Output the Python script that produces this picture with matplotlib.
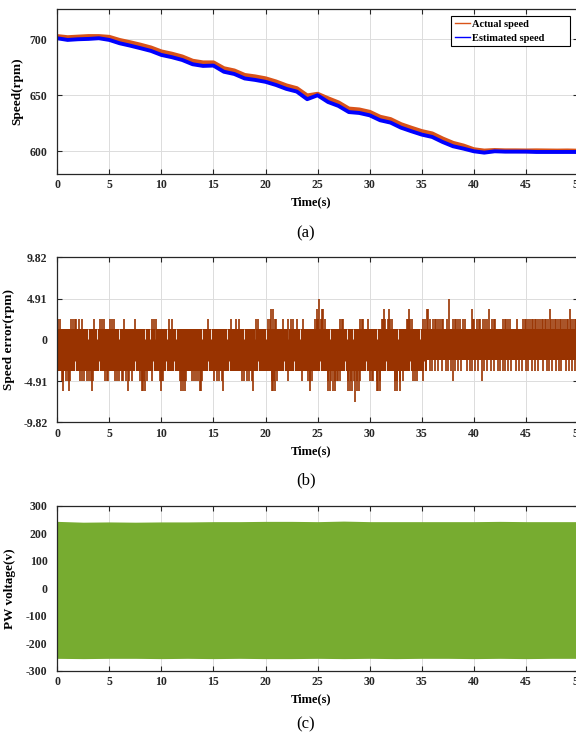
import matplotlib.pyplot as plt
import numpy as np

# speed curves, read at 1 s steps
time_s = list(range(0, 51))
actual_speed = [702.5, 701.5, 702.0, 702.5, 702.5, 701.8, 699.0, 697.0, 694.8, 692.3,
                688.8, 686.8, 684.3, 680.5, 679.0, 679.0, 673.8, 671.8, 667.8, 666.5,
                664.8, 662.0, 658.5, 656.0, 649.5, 651.0, 647.0, 643.3, 637.8, 637.0,
                634.9, 630.5, 628.4, 623.9, 620.7, 617.7, 615.6, 611.1, 607.2, 604.8,
                601.5, 600.3, 600.8, 600.5, 600.5, 600.4, 600.5, 600.4, 600.3, 600.4, 600.2]
estimated_speed = [700.9, 699.4, 700.0, 700.3, 700.9, 699.4, 696.4, 694.3, 692.0, 689.6,
                   686.0, 684.0, 681.5, 677.7, 676.2, 676.5, 671.0, 669.0, 665.0, 663.7,
                   662.0, 659.2, 655.7, 653.3, 646.5, 650.0, 644.0, 640.5, 635.0, 634.2,
                   632.1, 627.7, 625.6, 621.1, 617.9, 614.9, 612.8, 608.3, 604.5, 602.4,
                   600.0, 598.8, 600.0, 599.7, 599.7, 599.7, 599.4, 599.4, 599.4, 599.4, 599.4]

# speed error: quantised in steps of 4.91/4, values are step counts
err_step = 4.91 / 4
err_band_t = [0, 35.5, 50]
err_band_hi = [1, 1, 1]
err_band_lo = [-3, -2, -2]
err_up2_t = [0.08, 0.24, 1.37, 1.52, 1.69, 1.85, 2.08, 2.4, 3.57, 4.11, 4.3, 4.53, 5.08, 5.25,
             5.41, 6.37, 7.5, 9.12, 9.28, 9.44, 10.73, 11.05, 14.44, 16.7, 17.18, 17.5, 19.1,
             19.28, 20.25, 20.4, 20.9, 21.05, 21.7, 22.19, 22.4, 22.67, 23.0, 23.64, 24.74,
             24.9, 25.05, 25.3, 25.45, 25.7, 27.14, 27.3, 27.46, 29.06, 29.22, 29.38, 29.86,
             31.14, 31.3, 31.5, 31.78, 31.94, 32.1, 33.54, 33.7, 33.85, 34.02, 35.14, 35.3,
             35.8, 36.1, 36.25, 36.4, 36.58, 36.75, 36.9, 37.06, 37.4, 38.0, 38.15, 38.3, 38.5,
             38.65, 38.97, 39.15, 39.9, 40.05, 40.26, 40.45, 40.6, 40.9, 41.1, 41.3, 41.7,
             41.9, 42.05, 42.8, 42.95, 43.1, 43.3, 43.45, 44.1, 44.74, 44.9, 45.05, 45.2,
             45.38, 45.55, 45.7, 45.85, 46.0, 46.2, 46.35, 46.5, 46.65, 46.8, 46.95, 47.1,
             47.45, 47.6, 47.75, 47.93, 48.1, 48.25, 48.4, 48.58, 48.75, 48.9, 49.05, 49.35,
             49.5, 49.69, 49.85]
err_up3_t = [20.57, 20.72, 24.9, 25.38, 25.54, 31.36, 31.86, 33.76, 35.46, 35.62, 39.87,
             41.5, 47.29, 49.2]
err_up4_t = [25.16, 37.63]
err_dn3_t = [35.8, 36.0, 36.3, 36.6, 36.9, 37.3, 37.5, 37.8, 38.2, 38.5, 38.8, 39.3, 39.6,
             39.8, 40.1, 40.4, 41.0, 41.3, 41.6, 41.9, 42.3, 42.5, 42.8, 43.0, 43.3, 43.6,
             44.0, 44.3, 44.6, 45.0, 45.2, 45.6, 45.9, 46.2, 46.6, 47.0, 47.2, 47.5, 47.9,
             48.2, 48.4, 48.8, 49.1, 49.4, 49.7, 49.9]
err_dn4_t = [0.43, 0.6, 0.8, 1.0, 1.23, 2.19, 2.4, 2.6, 2.85, 3.05, 3.25, 3.47, 4.59, 4.75,
             4.91, 5.55, 5.75, 5.95, 6.19, 6.35, 6.6, 6.85, 7.15, 7.95, 8.15, 8.35, 8.59, 9.07,
             9.87, 10.03, 10.19, 11.8, 12.0, 12.2, 12.4, 12.9, 13.1, 13.3, 13.55, 13.9, 15.1,
             15.3, 15.55, 15.8, 17.7, 17.95, 18.2, 18.45, 18.7, 20.6, 20.85, 21.1, 22.2, 23.5,
             24.1, 24.26, 24.42, 26.02, 26.3, 26.66, 26.82, 27.0, 27.14, 27.94, 28.2, 28.45,
             28.8, 29.06, 30.02, 30.18, 30.34, 30.66, 30.98, 32.42, 32.65, 32.9, 33.22, 34.18,
             34.34, 34.5, 35.14, 38.02, 40.8]
err_dn5_t = [0.59, 1.13, 3.37, 6.83, 8.1, 8.25, 8.4, 10.0, 11.9, 12.1, 12.3, 13.7, 13.85,
             15.9, 18.8, 20.6, 20.75, 20.9, 24.3, 26.02, 26.2, 26.45, 26.66, 27.94, 28.1,
             28.3, 28.8, 29.0, 30.66, 30.8, 30.98, 32.42, 32.6, 32.9]
err_dn6_t = [28.58]
# moments where the signal skipped the outer step of the band (white slits)
err_gap_top_t = [3.0, 3.8, 5.9, 8.4, 8.9, 9.4, 10.5, 11.4, 13.9, 14.8, 16.3, 17.9, 19.0,
                 20.0, 22.2, 23.3, 26.2, 27.8, 28.4, 30.7, 32.7, 34.8]
err_gap_bot_t = [1.7, 4.0, 7.5, 9.2, 10.4, 11.2, 14.5, 16.5, 19.3, 21.8, 22.7, 25.2, 27.6,
                 29.6, 31.6, 33.9, 35.2]

# PW voltage envelope, read at 2.5 s steps
pw_t = [0, 2.5, 5, 7.5, 10, 12.5, 15, 17.5, 20, 22.5, 25, 27.5, 30, 32.5, 35, 37.5, 40,
        42.5, 45, 47.5, 50]
pw_upper = [244, 241, 242, 241, 242, 242, 243, 243, 244, 244, 243, 245, 243, 243, 243,
            243, 243, 244, 243, 243, 243]
pw_lower = [-255, -256, -255, -255, -256, -255, -256, -255, -256, -256, -255, -256, -255,
            -256, -255, -255, -256, -255, -256, -255, -255]

plt.rcParams['font.family'] = ['Liberation Serif', 'DejaVu Serif']
plt.rcParams['font.weight'] = 'bold'
plt.rcParams['axes.labelweight'] = 'bold'
plt.rcParams['axes.unicode_minus'] = False

W, H = 576.0, 740.0
X0, AW = 57.2, 520.8
fig = plt.figure(figsize=(W / 100, H / 100), dpi=100)


def make_axes(top_px, bottom_px, ylabel, label_right_px):
    ax = fig.add_axes([X0 / W, 1 - bottom_px / H, AW / W, (bottom_px - top_px) / H])
    ax.set_xlim(0, 50)
    ax.set_xticks(range(0, 51, 5))
    ax.grid(True, color="#dcdcdc", linewidth=0.7)
    ax.set_axisbelow(True)
    ax.tick_params(direction="in", top=True, right=True, length=3.5, width=0.8,
                   labelsize=8.5, colors="#262626", labelcolor="#262626")
    ax.tick_params(axis="x", pad=4)
    ax.tick_params(axis="y", pad=7)
    for s in ax.spines.values():
        s.set_color("#262626")
        s.set_linewidth(0.9)
    ax.set_xlabel("Time(s)", fontsize=9)
    ax.xaxis.set_label_coords(0.487, -0.14)
    ax.set_ylabel(ylabel, fontsize=9.5)
    # label_right_px: where the rotated label's right edge sits
    ax.yaxis.set_label_coords((label_right_px - X0) / AW, 0.5)
    return ax


# (a) speed
ax1 = make_axes(9, 173.7, "Speed(rpm)", 23)
ax1.plot(time_s, actual_speed, color="#D95319", linewidth=3.4, label="Actual speed")
ax1.plot(time_s, estimated_speed, color="#0000FF", linewidth=2.8, label="Estimated speed")
ax1.set_ylim(580, 727)
ax1.set_yticks([600, 650, 700])
leg = ax1.legend(loc="upper left", bbox_to_anchor=(0.756, 0.747, 0.229, 0.212),
                 mode="expand", borderaxespad=0, fontsize=7.5, handlelength=1.45,
                 handletextpad=0.2, borderpad=0.35, labelspacing=0.45, fancybox=False,
                 framealpha=1)
leg.get_frame().set_edgecolor("black")
leg.get_frame().set_linewidth(0.8)
for ln in leg.get_lines():
    ln.set_linewidth(1.0)

# (b) speed error
ax2 = make_axes(257.3, 422.3, "Speed error(rpm)", 15)
ec = "#993300"
ax2.fill_between(err_band_t, np.array(err_band_lo) * err_step, np.array(err_band_hi) * err_step,
                 step="post", color=ec, linewidth=0)
ax2.vlines(err_gap_top_t, 0.05, err_step, color="white", linewidth=0.6)
ax2.vlines(err_gap_bot_t, -3 * err_step, -2 * err_step - 0.05, color="white", linewidth=0.6)
for times, k in [(err_up2_t, 2), (err_up3_t, 3), (err_up4_t, 4)]:
    ax2.vlines(times, 0, k * err_step, color=ec, linewidth=1.2)
for times, k in [(err_dn3_t, -3), (err_dn4_t, -4), (err_dn5_t, -5), (err_dn6_t, -6)]:
    ax2.vlines(times, k * err_step, 0, color=ec, linewidth=1.2)
ax2.set_ylim(-9.82, 9.82)
ax2.set_yticks([-9.82, -4.91, 0, 4.91, 9.82])
ax2.set_yticklabels(["-9.82", "-4.91", "0", "4.91", "9.82"])

# (c) PW voltage
ax3 = make_axes(506, 670.7, "PW voltage(v)", 16)
ax3.fill_between(pw_t, pw_lower, pw_upper, color="#77AC30", linewidth=0)
ax3.set_ylim(-300, 300)
ax3.set_yticks(range(-300, 301, 100))

for y, s in [(233, "(a)"), (480, "(b)"), (724, "(c)")]:
    fig.text(306 / W, 1 - y / H, s, ha="center", va="center", fontsize=12,
             fontweight="normal")

fig.savefig("out.png", dpi=100)
